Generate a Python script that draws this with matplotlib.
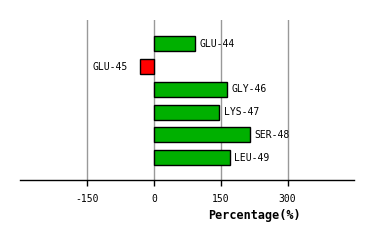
import matplotlib
matplotlib.use("Agg")
import matplotlib.pyplot as plt

labels = ["GLU-44", "GLU-45", "GLY-46", "LYS-47", "SER-48", "LEU-49"]
values = [92, -31, 164, 147, 216, 171]
xticks = [-150, 0, 150, 300]

W, H = 374, 240
fig = plt.figure(figsize=(W / 100, H / 100), dpi=100)
x0, x1 = 20.3, 354.3
ytop, ybot = 20.0, 180.3
ax = fig.add_axes([x0 / W, 1 - ybot / H, (x1 - x0) / W, (ybot - ytop) / H])

pos = list(range(len(labels)))
colors = ["#00B000" if v >= 0 else "#FF0000" for v in values]
ax.barh(pos, values, height=0.655, color=colors, edgecolor="black", linewidth=1, zorder=3)

for p, v, lab in zip(pos, values, labels):
    if v >= 0:
        ax.annotate(lab, (v, p), xytext=(3, 0), textcoords="offset points",
                    ha="left", va="center", fontsize=7, family="DejaVu Sans Mono")
    else:
        ax.annotate(lab, (v, p), xytext=(-9, 0), textcoords="offset points",
                    ha="right", va="center", fontsize=7, family="DejaVu Sans Mono")

ax.set_xlim(-300, 450)
ax.set_ylim(len(labels), -1.05)
ax.set_xticks(xticks)
ax.set_xticklabels([str(t) for t in xticks], fontsize=7, family="DejaVu Sans Mono")
ax.set_yticks([])
for t in xticks:
    ax.axvline(t, color="#999999", linewidth=1, zorder=1)
for s in ["top", "right", "left"]:
    ax.spines[s].set_visible(False)
ax.spines["bottom"].set_linewidth(1)
ax.tick_params(axis="x", length=4, width=1, pad=6)

fig.text(254 / W, 1 - 215 / H, "Percentage(%)", ha="center", va="center",
         fontsize=8.5, fontweight="bold", family="DejaVu Sans Mono")

fig.savefig("out.png", dpi=100)
